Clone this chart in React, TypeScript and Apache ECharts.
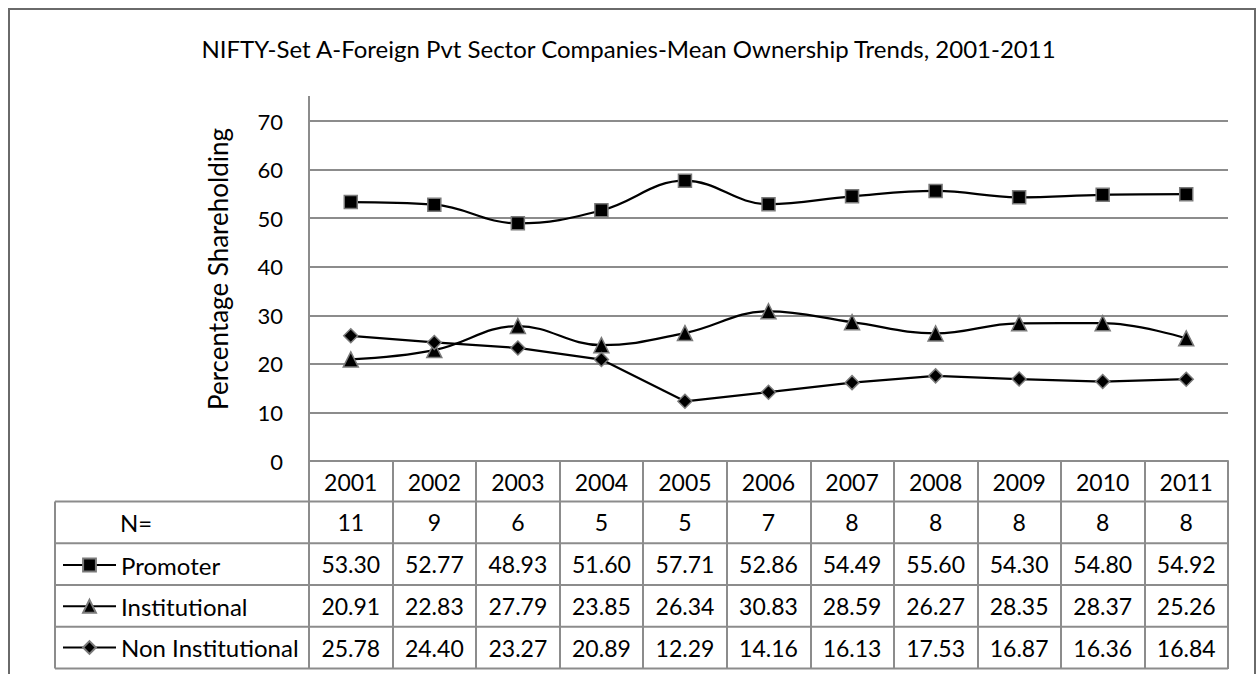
import React, { useEffect, useRef } from "react";
import * as echarts from "echarts";

const titleText = "NIFTY-Set A-Foreign Pvt Sector Companies-Mean Ownership Trends, 2001-2011";
const yAxisName = "Percentage Shareholding";
const years = ["2001", "2002", "2003", "2004", "2005", "2006", "2007", "2008", "2009", "2010", "2011"];
const nCounts = [11, 9, 6, 5, 5, 7, 8, 8, 8, 8, 8];
const promoter = [53.3, 52.77, 48.93, 51.6, 57.71, 52.86, 54.49, 55.6, 54.3, 54.8, 54.92];
const institutional = [20.91, 22.83, 27.79, 23.85, 26.34, 30.83, 28.59, 26.27, 28.35, 28.37, 25.26];
const nonInstitutional = [25.78, 24.4, 23.27, 20.89, 12.29, 14.16, 16.13, 17.53, 16.87, 16.36, 16.84];
const yMin = 0;
const yMax = 70;
const yInterval = 10;
const nLabel = "N=";

const FONT = "Lato, Carlito, Calibri, sans-serif";
const FS_TEXT = 24;
const FS_NUM = 23;
const FS_TICK = 22;
const FS_YNAME = 26;
const GRID_COLOR = "#8c8c8c";

export default function App() {
  const ref = useRef<HTMLDivElement>(null);
  useEffect(() => {
    if (!ref.current) return;
    const chart = echarts.init(ref.current, undefined, { renderer: "svg" });

    const headerH = 40.5;
    const rowH = 41.75;
    const rowCenters = [0, 1, 2, 3].map((k) => headerH + rowH * k + rowH / 2);

    const tableRows = [
      nCounts.map((v) => String(v)),
      promoter.map((v) => v.toFixed(2)),
      institutional.map((v) => v.toFixed(2)),
      nonInstitutional.map((v) => v.toFixed(2)),
    ];

    const extraAxes = tableRows.map((row, i) => ({
      type: "category",
      position: "bottom",
      gridIndex: 0,
      offset: rowCenters[i],
      data: row,
      boundaryGap: true,
      axisLine: { show: false },
      axisTick: { show: false },
      splitLine: { show: false },
      axisLabel: {
        interval: 0,
        margin: 0,
        verticalAlign: "middle",
        fontSize: FS_NUM,
        fontFamily: FONT,
        color: "#000",
      },
    }));

    const markerStyle = { color: "#000", borderColor: "#7a7a7a", borderWidth: 1.5 };

    const option: any = {
      animation: false,
      backgroundColor: "#fff",
      textStyle: { fontFamily: FONT },
      title: {
        text: titleText,
        left: "center",
        top: 31,
        textStyle: { fontSize: FS_TEXT, fontWeight: "normal", color: "#000", fontFamily: FONT },
      },
      grid: { left: 309, right: 29, top: 121, bottom: 213, containLabel: false },
      legend: {
        orient: "vertical",
        left: 62,
        top: 553,
        padding: 0,
        itemWidth: 53,
        itemHeight: 16,
        itemGap: 17.25,
        selectedMode: false,
        textStyle: { fontSize: FS_TEXT, lineHeight: 24, color: "#000", fontFamily: FONT },
        data: ["Promoter", "Institutional", "Non Institutional"],
      },
      xAxis: [
        {
          type: "category",
          position: "bottom",
          data: years,
          boundaryGap: true,
          axisLine: { show: true, lineStyle: { color: GRID_COLOR, width: 2 } },
          axisTick: { show: true, length: 208, inside: false, lineStyle: { color: GRID_COLOR, width: 2 } },
          axisLabel: {
            interval: 0,
            margin: 20.5,
            verticalAlign: "middle",
            fontSize: FS_NUM,
            fontFamily: FONT,
            color: "#000",
          },
          splitLine: { show: false },
        },
        ...extraAxes,
      ],
      yAxis: {
        type: "value",
        min: yMin,
        max: yMax,
        interval: yInterval,
        name: yAxisName,
        nameLocation: "middle",
        nameRotate: 90,
        nameGap: 78,
        nameTextStyle: { fontSize: FS_YNAME, fontFamily: FONT, color: "#000", padding: [0, 0, 0, 44] },
        axisLine: { show: true, lineStyle: { color: GRID_COLOR, width: 2 } },
        axisTick: { show: false },
        axisLabel: { margin: 26, fontSize: FS_TICK, fontFamily: FONT, color: "#000" },
        splitLine: { show: true, lineStyle: { color: GRID_COLOR, width: 2 } },
      },
      series: [
        {
          name: "Promoter",
          type: "line",
          data: promoter,
          smooth: 0.4,
          symbol: "rect",
          symbolSize: 13,
          color: "#000",
          lineStyle: { color: "#000", width: 2.25 },
          itemStyle: markerStyle,
        },
        {
          name: "Institutional",
          type: "line",
          data: institutional,
          smooth: 0.4,
          symbol: "triangle",
          symbolSize: 15,
          color: "#000",
          lineStyle: { color: "#000", width: 2.25 },
          itemStyle: markerStyle,
        },
        {
          name: "Non Institutional",
          type: "line",
          data: nonInstitutional,
          smooth: false,
          symbol: "diamond",
          symbolSize: 14,
          color: "#000",
          lineStyle: { color: "#000", width: 2.25 },
          itemStyle: markerStyle,
        },
      ],
    };

    chart.setOption(option);

    const c0 = chart.convertToPixel({ xAxisIndex: 0 }, years[0]) as number;
    const c1 = chart.convertToPixel({ xAxisIndex: 0 }, years[1]) as number;
    const colW = c1 - c0;
    const plotLeft = c0 - colW / 2;
    const plotRight = c0 + colW * (years.length - 0.5);
    const axisY = chart.convertToPixel({ yAxisIndex: 0 }, yMin) as number;
    const topY = chart.convertToPixel({ yAxisIndex: 0 }, yMax) as number;
    const tableLeft = 55;
    const lineStyle = { stroke: GRID_COLOR, lineWidth: 2 };

    const graphic: any[] = [
      {
        type: "rect",
        silent: true,
        shape: { x: 9, y: 9, width: 1246, height: 720 },
        style: { fill: "none", stroke: "#6a6a6a", lineWidth: 2 },
      },
      {
        type: "line",
        silent: true,
        shape: { x1: plotLeft, y1: topY - 25, x2: plotLeft, y2: topY },
        style: lineStyle,
      },
      {
        type: "line",
        silent: true,
        shape: { x1: tableLeft, y1: axisY + headerH, x2: tableLeft, y2: axisY + headerH + rowH * 4 },
        style: lineStyle,
      },
      {
        type: "text",
        silent: true,
        style: {
          text: nLabel,
          x: 120,
          y: axisY + rowCenters[0],
          verticalAlign: "middle",
          align: "left",
          font: `${FS_TEXT}px ${FONT}`,
          fill: "#000",
        },
      },
    ];
    for (let k = 0; k <= 4; k++) {
      const y = axisY + headerH + rowH * k;
      graphic.push({
        type: "line",
        silent: true,
        shape: { x1: tableLeft, y1: y, x2: plotRight, y2: y },
        style: lineStyle,
      });
    }
    chart.setOption({ graphic });

    return () => chart.dispose();
  }, []);

  return (
    <div
      ref={ref}
      style={{ position: "absolute", left: 0, top: 0, width: 1257, height: 674, background: "#fff" }}
    />
  );
}
